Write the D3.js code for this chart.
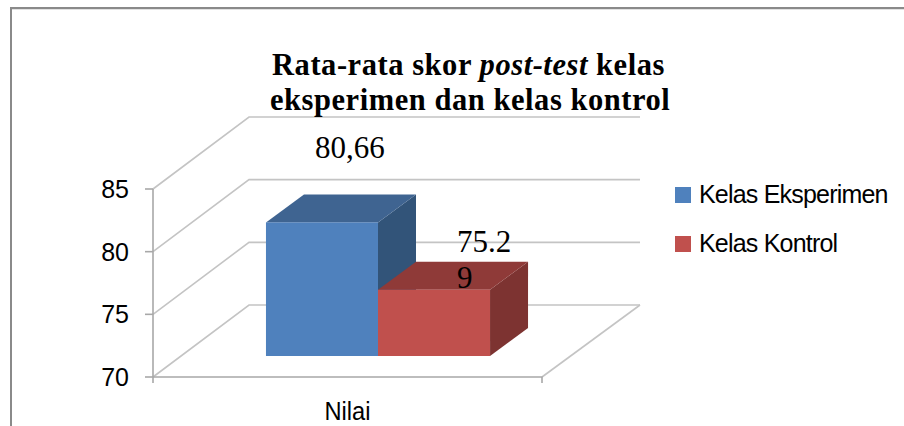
<!DOCTYPE html>
<html><head><meta charset="utf-8">
<script src="https://cdnjs.cloudflare.com/ajax/libs/d3/7.8.5/d3.min.js"></script>
<style>html,body{margin:0;padding:0;background:#fff}svg{display:block}</style>
</head><body><svg id="c" width="904" height="426"></svg>
<script>
const categories = ["Nilai"];
const seriesNames = ["Kelas Eksperimen", "Kelas Kontrol"];
const seriesValues = [80.66, 75.29];
const seriesLabelLines = [["80,66"], ["75.2", "9"]];
const yTicks = [70, 75, 80, 85];
const seriesFront = ["#4f81bd", "#c0504d"];
const seriesTop = ["#3f6491", "#8f3a38"];
const seriesSide = ["#325479", "#7d3331"];

const svg = d3.select("#c");
const serif = "'Liberation Serif', serif", sans = "'Liberation Sans', sans-serif";

// frame
svg.append("path").attr("d", "M11 426V8H904").attr("fill", "none").attr("stroke", "#8a8a8a").attr("stroke-width", 2);
svg.append("path").attr("d", "M12 9.5H904").attr("fill", "none").attr("stroke", "#e2e2e2").attr("stroke-width", 1);

// scales
const y = d3.scaleLinear().domain([70, 85]).range([377, 189]);
const x0 = d3.scaleBand().domain(categories).range([153, 542]);
const wallDx = 96, wallDxRight = 98, wallDy = -72; // back wall offset of the 3D box
const frontDx = 30.5, frontDy = -21;               // front plane of the bars within the box
const depthDx = 38, depthDy = -28;                 // bar depth

// grid & walls
const grid = svg.append("g").attr("fill", "none");
yTicks.forEach(t => {
  grid.append("path")
    .attr("d", `M${x0.range()[0]} ${y(t)}L${x0.range()[0] + wallDx} ${y(t) + wallDy}H${x0.range()[1] + wallDxRight}`)
    .attr("stroke", "#c4c4c4").attr("stroke-width", 1.6);
});
grid.append("path")
  .attr("d", `M${x0.range()[1]} ${y(70)}L${x0.range()[1] + wallDxRight} ${y(70) + wallDy}`)
  .attr("stroke", "#c4c4c4").attr("stroke-width", 1.6);

// axes
const axis = svg.append("g").attr("fill", "none").attr("stroke", "#a8a8a8").attr("stroke-width", 1.6);
axis.append("path").attr("d", `M${x0.range()[0]} ${y(85)}V${y(70) + 6}`);
axis.append("path").attr("d", `M${x0.range()[0]} ${y(70)}H${x0.range()[1]}V${y(70) + 6}`);
yTicks.forEach(t => axis.append("path").attr("d", `M${x0.range()[0] - 8} ${y(t)}H${x0.range()[0]}`));

svg.append("g").selectAll("text").data(yTicks).join("text")
  .attr("x", 129).attr("y", d => y(d) + 9)
  .attr("text-anchor", "end").attr("font-family", sans).attr("font-size", 25).attr("fill", "#000")
  .text(d => d);

svg.selectAll("text.cat").data(categories).join("text").attr("class", "cat")
  .attr("x", d => x0(d) + x0.bandwidth() / 2).attr("y", 420)
  .attr("text-anchor", "middle").attr("font-family", sans).attr("font-size", 25).attr("fill", "#000")
  .attr("textLength", 46).attr("lengthAdjust", "spacingAndGlyphs")
  .text(d => d);

// bars
const groupW = x0.bandwidth() * 0.576;
const mid = x0("Nilai") + x0.bandwidth() / 2 + frontDx;
const xs = d3.scaleBand().domain(seriesNames).range([mid - groupW / 2, mid + groupW / 2]);
const bars = svg.append("g");
seriesNames.forEach((s, i) => {
  const x = xs(s), w = xs.bandwidth(), b = y(70) + frontDy, t = y(seriesValues[i]) + frontDy;
  const g = bars.append("g");
  g.append("path").attr("fill", seriesSide[i])
    .attr("d", `M${x + w} ${t}l${depthDx} ${depthDy}V${b + depthDy}L${x + w} ${b}Z`);
  g.append("path").attr("fill", seriesTop[i])
    .attr("d", `M${x} ${t}l${depthDx} ${depthDy}h${w}l${-depthDx} ${-depthDy}Z`);
  g.append("rect").attr("fill", seriesFront[i]).attr("x", x).attr("y", t).attr("width", w).attr("height", b - t);
});

// data labels
const labelX = [315, 457], labelY = [158, 252], labelLead = 36;
seriesLabelLines.forEach((lines, i) => lines.forEach((l, j) => {
  svg.append("text").attr("x", labelX[i]).attr("y", labelY[i] + j * labelLead)
    .attr("font-family", serif).attr("font-size", 31).attr("fill", "#000").text(l);
}));

// title
const title = svg.append("text").attr("font-family", serif).attr("font-size", 30.5).attr("font-weight", "bold")
  .attr("letter-spacing", 0.55).attr("fill", "#000");
const l1 = title.append("tspan").attr("x", 272).attr("y", 75);
l1.append("tspan").text("Rata-rata skor ");
l1.append("tspan").attr("font-style", "italic").text("post-test");
l1.append("tspan").text(" kelas");
title.append("tspan").attr("x", 270).attr("y", 110).text("eksperimen dan kelas kontrol");

// legend
const lg = svg.append("g");
seriesNames.forEach((s, i) => {
  const yy = 187 + i * 49;
  lg.append("rect").attr("x", 675).attr("y", yy).attr("width", 16).attr("height", 16).attr("fill", seriesFront[i]);
  lg.append("text").attr("x", 699).attr("y", yy + 16).attr("font-family", sans).attr("font-size", 25)
    .attr("letter-spacing", -0.8).attr("fill", "#000").text(s);
});
</script></body></html>
